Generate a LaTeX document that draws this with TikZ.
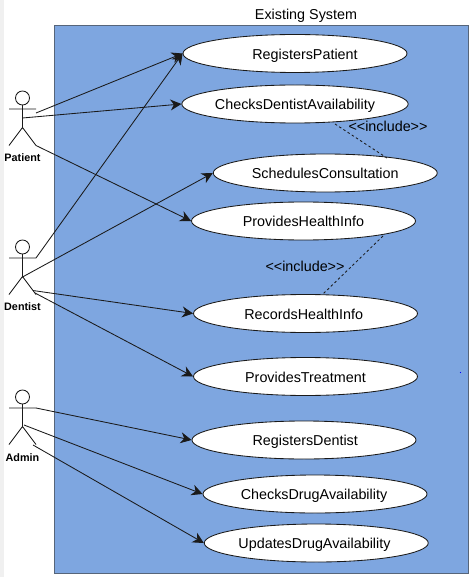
\documentclass[tikz,border=0pt]{standalone}
\usepackage{fontspec}
\setmainfont{Liberation Sans}
\usetikzlibrary{shapes.geometric,arrows.meta}
\definecolor{sysblue}{HTML}{7EA6E0}
\definecolor{sysedge}{HTML}{56657A}
\definecolor{inkdark}{HTML}{1A1A1A}
\tikzset{
  usecase/.style={draw=inkdark,fill=white,ellipse,line width=0.85pt,inner sep=0pt,minimum width=224pt,minimum height=38pt,font=\fontsize{14.35}{16}\selectfont,text=black,text height=14pt,text depth=2.4pt},
  assoc/.style={draw=inkdark,line width=0.85pt,-{Stealth[length=11pt,width=11pt,inset=3.5pt]}},
  incl/.style={draw=inkdark,line width=0.85pt,dash pattern=on 2.5pt off 2.5pt},
  limb/.style={draw=inkdark,line width=0.85pt},
  actorname/.style={font=\bfseries\fontsize{10.8}{12}\selectfont,text=black,inner sep=0pt,anchor=base},
  plain/.style={font=\fontsize{14.35}{16}\selectfont,text=black,inner sep=0pt,anchor=base},
}
\begin{document}
\begin{tikzpicture}[x=1pt,y=-1pt]
\useasboundingbox (0,0) rectangle (469,577);
\fill[white] (0,0) rectangle (469,577);
\fill[black!6] (0,0) rectangle (3.5,577);
\node[draw=sysedge,fill=sysblue,line width=1.4pt,minimum width=413.5pt,minimum height=548pt,inner sep=0pt,anchor=north west] (sys) at (54,25) {};
\node[plain] (title) at (306,19.3) {Existing System};
\fill[blue] (460.5,372.5) circle (0.7pt);

\node[usecase] (rp) at (295,53.5) {\hspace*{20pt}RegistersPatient};
\node[usecase] (cd) at (295,104) {ChecksDentistAvailability};
\node[usecase] (sc) at (325.25,173) {SchedulesConsultation};
\node[usecase] (ph) at (303.5,221) {ProvidesHealthInfo};
\node[usecase] (rh) at (305.5,313.5) {RecordsHealthInfo\hspace*{3.5pt}};
\node[usecase] (pt) at (305.5,376.5) {ProvidesTreatment};
\node[usecase] (rd) at (304,440) {\hspace*{2.5pt}RegistersDentist};
\node[usecase] (cg) at (315,494) {ChecksDrugAvailability\hspace*{2pt}};
\node[usecase] (ug) at (316.25,543) {UpdatesDrugAvailability\hspace*{3.5pt}};

% actors
\foreach \n/\yy in {pa/98,de/247,ad/397}{
  \draw[limb] (22.5,\yy) circle (7pt);
  \coordinate (\n body) at (22.5,\yy+7);
  \coordinate (\n arml) at (9,\yy+11);
  \coordinate (\n armr) at (36,\yy+11);
  \coordinate (\n hip) at (22.5,\yy+29.5);
  \coordinate (\n legl) at (9,\yy+47.5);
  \coordinate (\n legr) at (36,\yy+47.5);
  \draw[limb] (\n body) -- (\n hip) (\n arml) -- (\n armr) (\n legl) -- (\n hip) -- (\n legr);
}
\node[actorname] (patient) at (22.5,162) {Patient};
\node[actorname] (dentist) at (22.5,310) {Dentist};
\node[actorname] (admin) at (22.5,461) {Admin};

% free connector ends
\coordinate (pa1) at (36,113);
\coordinate (pa2) at (22.5,118);
\coordinate (de2) at (22.5,277);
\coordinate (de3) at (33,290.5);
\coordinate (de4) at (35,293);
\coordinate (ad2) at (24,425);
\coordinate (ad3) at (33,445);
\coordinate (i1a) at (335,124);
\coordinate (i1b) at (387,158);
\coordinate (i2a) at (383,236);
\coordinate (i2b) at (323,294);

\draw[assoc] (pa1) -- (rp.west);
\draw[assoc] (pa2) -- (cd.west);
\draw[assoc] (palegr) -- (ph.west);
\draw[assoc] (dearmr) -- (rp.west);
\draw[assoc] (de2) -- (sc.west);
\draw[assoc] (de3) -- (rh.west);
\draw[assoc] (de4) -- (pt.west);
\draw[assoc] (adarmr) -- (rd.west);
\draw[assoc] (ad2) -- (cg.west);
\draw[assoc] (ad3) -- (ug.west);

\draw[incl] (i1a) -- (i1b);
\draw[incl] (i2a) -- (i2b);
\node[plain] (inc1) at (388,132) {<{}<include>{}>};
\node[plain] (inc2) at (305,271) {<{}<include>{}>};
\end{tikzpicture}
\end{document}
